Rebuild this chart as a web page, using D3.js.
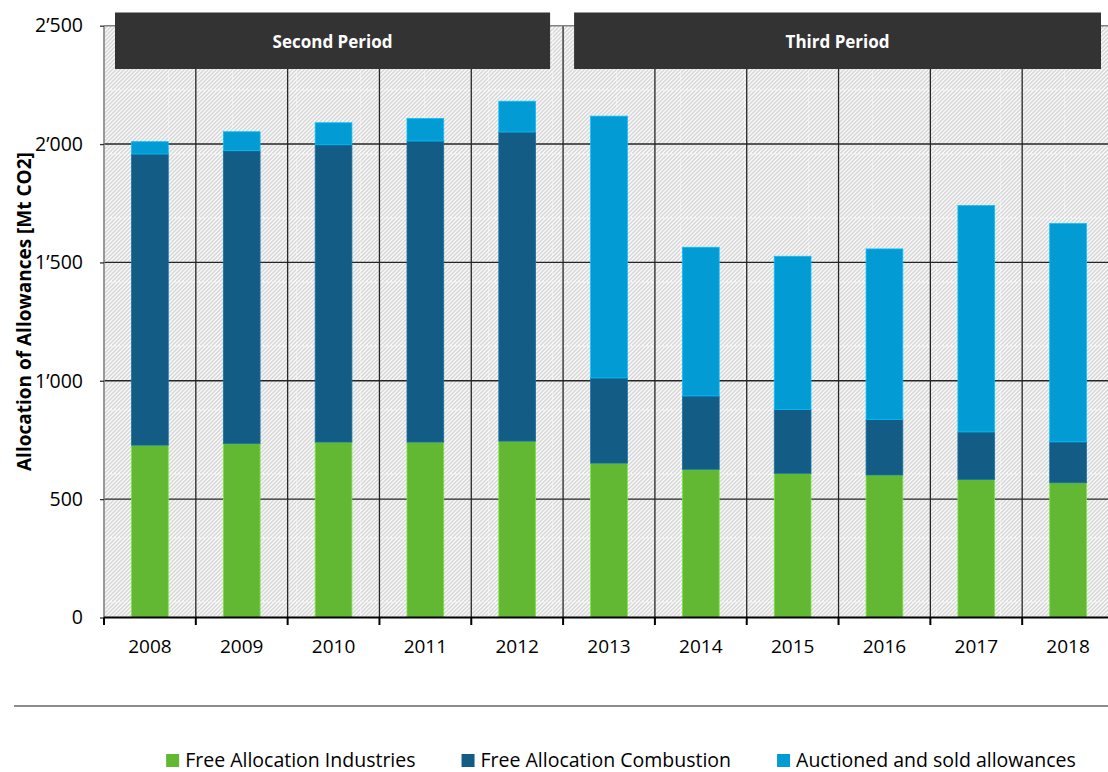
<!DOCTYPE html>
<html>
<head>
<meta charset="utf-8">
<script src="https://cdn.jsdelivr.net/npm/d3@7"></script>
<style>
  html, body { margin: 0; padding: 0; background: #fff; }
  svg { display: block; font-family: "Open Sans", sans-serif; }
</style>
</head>
<body>
<svg id="chart" width="1108" height="772"></svg>
<script>
// ---- data ----
const years = ["2008","2009","2010","2011","2012","2013","2014","2015","2016","2017","2018"];
const industries = [728, 735, 741, 741, 745, 652, 626, 609, 602, 583, 569];
const combustion = [1230, 1237, 1256, 1272, 1306, 360, 310, 270, 235, 201, 173];
const auctioned  = [52, 80, 93, 95, 130, 1106, 628, 647, 720, 956, 922];
const yTicks = [0, 500, 1000, 1500, 2000, 2500];
const seriesNames = ["Free Allocation Industries", "Free Allocation Combustion", "Auctioned and sold allowances"];
const periodLabels = ["Second Period", "Third Period"];
const periodStart = ["2008", "2013"];
const periodEnd = ["2012", "2018"];
const yTitle = "Allocation of Allowances [Mt CO2]";

// ---- styles ----
const colors = ["#62b833", "#135c85", "#039bd3"];

const svg = d3.select("#chart");
const pLeft = 104, pRight = 1114, pTop = 25.7, pBottom = 617.5;

const x = d3.scaleBand().domain(years).range([pLeft, pRight]).padding(0);
const y = d3.scaleLinear().domain([0, 2500]).range([pBottom, pTop]);
const fmt = v => d3.format(",")(v).replace(/,/g, "\u2019");

// pattern
const defs = svg.append("defs");
const T = 64;
const pat = defs.append("pattern").attr("id", "hatch")
  .attr("patternUnits", "userSpaceOnUse")
  .attr("x", pLeft).attr("y", pTop)
  .attr("width", T).attr("height", T);
pat.append("rect").attr("width", T).attr("height", T).attr("fill", "#fff");
d3.range(-T, T + 4, 4).forEach(s => {
  pat.append("line")
    .attr("x1", s).attr("y1", T).attr("x2", s + T).attr("y2", 0)
    .attr("stroke", "#d0d0d0").attr("stroke-width", 1.4);
});
pat.append("line").attr("x1", 0).attr("y1", 0.5).attr("x2", T).attr("y2", 0.5)
  .attr("stroke", "#fff").attr("stroke-opacity", 0.55).attr("stroke-width", 1).attr("stroke-dasharray", "3,2");
pat.append("line").attr("x1", 0.5).attr("y1", 0).attr("x2", 0.5).attr("y2", T)
  .attr("stroke", "#fff").attr("stroke-opacity", 0.55).attr("stroke-width", 1).attr("stroke-dasharray", "3,2");

svg.append("rect")
  .attr("x", pLeft).attr("y", pTop)
  .attr("width", pRight - pLeft).attr("height", pBottom - pTop)
  .attr("fill", "url(#hatch)");

// horizontal gridlines
svg.append("g").selectAll("line")
  .data(yTicks.filter(v => v > 0 && v < 2500))
  .join("line")
  .attr("x1", pLeft).attr("x2", pRight)
  .attr("y1", d => y(d)).attr("y2", d => y(d))
  .attr("stroke", "#262626").attr("stroke-width", 1.4);

// vertical separators
svg.append("g").selectAll("line")
  .data(years.slice(1))
  .join("line")
  .attr("x1", d => x(d)).attr("x2", d => x(d))
  .attr("y1", pTop).attr("y2", pBottom)
  .attr("stroke", "#262626").attr("stroke-width", 1.3);

// stacked bars
const table = years.map((yr, i) => ({
  year: yr,
  [seriesNames[0]]: industries[i],
  [seriesNames[1]]: combustion[i],
  [seriesNames[2]]: auctioned[i]
}));
const stack = d3.stack().keys(seriesNames)(table);
const barW = x.bandwidth() * 0.4;

svg.append("g").selectAll("g")
  .data(stack)
  .join("g")
  .attr("fill", (d, i) => colors[i])
  .attr("stroke", (d, i) => d3.color(colors[i]).brighter(0.6))
  .attr("stroke-width", 0.8)
  .selectAll("rect")
  .data(d => d)
  .join("rect")
  .attr("x", d => x(d.data.year) + (x.bandwidth() - barW) / 2)
  .attr("width", barW)
  .attr("y", d => y(d[1]))
  .attr("height", d => y(d[0]) - y(d[1]));

// plot frame: left & top grey
svg.append("line").attr("x1", pLeft).attr("x2", pLeft).attr("y1", pTop).attr("y2", pBottom)
  .attr("stroke", "#808080").attr("stroke-width", 1.6);
svg.append("line").attr("x1", pLeft).attr("x2", pRight).attr("y1", pTop).attr("y2", pTop)
  .attr("stroke", "#808080").attr("stroke-width", 1.6);

// y axis
const yAxis = d3.axisLeft(y).tickValues(yTicks).tickFormat(fmt).tickSize(4).tickPadding(17);
const gy = svg.append("g").attr("transform", `translate(${pLeft},0)`).call(yAxis);
gy.select(".domain").remove();
gy.selectAll(".tick line").attr("stroke", "#333").attr("stroke-width", 1.3);
gy.selectAll(".tick text").attr("font-size", 19.5).attr("font-family", "Open Sans").attr("fill", "#000");

// x axis
const xAxis = d3.axisBottom(x).tickSize(0).tickPadding(0);
const gx = svg.append("g").attr("transform", `translate(0,${pBottom})`).call(xAxis);
gx.select(".domain").remove();
gx.selectAll(".tick text").attr("font-size", 19).attr("font-family", "Open Sans").attr("fill", "#000")
  .attr("dy", 0).attr("y", 35.5);
svg.append("line").attr("x1", pLeft).attr("x2", pRight).attr("y1", pBottom).attr("y2", pBottom)
  .attr("stroke", "#000").attr("stroke-width", 2);
svg.append("g").selectAll("line")
  .data(years)
  .join("line")
  .attr("x1", d => x(d)).attr("x2", d => x(d))
  .attr("y1", pBottom).attr("y2", pBottom + 7.5)
  .attr("stroke", "#000").attr("stroke-width", 2);

// y title
svg.append("text")
  .attr("transform", `translate(31,${(pTop + pBottom) / 2 - 10}) rotate(-90)`)
  .attr("text-anchor", "middle")
  .attr("font-size", 19).attr("font-weight", "bold").attr("fill", "#000")
  .text(yTitle);

// period header boxes
periodLabels.forEach((lab, i) => {
  const x0 = x(periodStart[i]) + 11;
  const x1 = x(periodEnd[i]) + x.bandwidth() - 13;
  svg.append("rect").attr("x", x0).attr("y", 12.5).attr("width", x1 - x0).attr("height", 56.5)
    .attr("fill", "#333333");
  svg.append("text").attr("x", (x0 + x1) / 2).attr("y", 47.5)
    .attr("text-anchor", "middle").attr("fill", "#fff")
    .attr("font-size", 17).attr("font-weight", "bold").text(lab);
});

// separator line
svg.append("line").attr("x1", 14).attr("x2", 1108).attr("y1", 706).attr("y2", 706)
  .attr("stroke", "#1a1a1a").attr("stroke-width", 1);

// legend
const lg = svg.append("g");
const items = lg.selectAll("g").data(seriesNames).join("g");
items.append("rect").attr("width", 13).attr("height", 13).attr("y", 754)
  .attr("fill", (d, i) => colors[i]);
items.append("text").attr("x", 19).attr("y", 767).attr("font-size", 19.5).attr("fill", "#000").text(d => d);
let cur = 0;
const positions = [];
items.each(function() {
  const w = this.querySelector("text").getComputedTextLength() + 19;
  positions.push(cur);
  cur += w + 46;
});
const total = cur - 46;
const start = 621 - total / 2;
items.attr("transform", (d, i) => `translate(${start + positions[i]},0)`);
</script>
</body>
</html>
